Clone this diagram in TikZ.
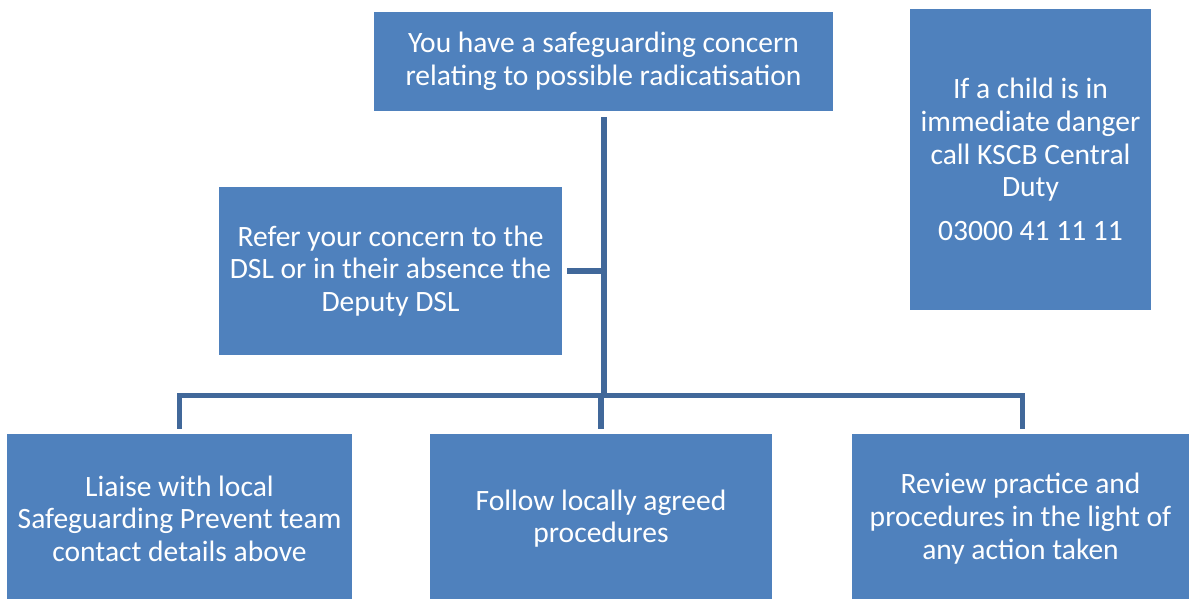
\documentclass[tikz,border=0pt]{standalone}
\usepackage{fontspec}
\setmainfont{Carlito}
\definecolor{boxblue}{HTML}{4F81BD}
\definecolor{linkblue}{HTML}{41689A}
\begin{document}
\begin{tikzpicture}[x=0.025cm,y=-0.025cm,
  box/.style={rectangle,fill=boxblue,draw=none,text=white,inner sep=0pt,align=center,
    font=\fontsize{21}{23.2}\selectfont},
  conn/.style={draw=linkblue,line width=3.6pt}]
\useasboundingbox (0,0) rectangle (1189,598);
\clip (0,0) rectangle (1189,598);
\node[box,minimum width=11.475cm,minimum height=2.475cm] (top) at (603.5,61.5)
  {You have a safeguarding concern\\relating to possible radicatisation};
\node[box,minimum width=6.025cm,minimum height=7.525cm] (danger) at (1030.5,159.5)
  {If a child is in\\immediate danger\\call KSCB Central\\Duty\\[8pt]03000 41 11 11};
\node[box,minimum width=8.575cm,minimum height=4.2cm] (refer) at (390.5,271)
  {Refer your concern to the\\DSL or in their absence the\\Deputy DSL};
\node[box,minimum width=8.6cm,minimum height=4.225cm] (bl) at (179.5,518.5)
  {Liaise with local\\Safeguarding Prevent team\\contact details above};
\node[box,minimum width=8.55cm,minimum height=4.225cm] (bm) at (601,518.5)
  {Follow locally agreed\\procedures};
\node[box,minimum width=8.425cm,minimum height=4.225cm] (br) at (1020.5,518.5)
  {Review practice and\\procedures in the light of\\any action taken};
\coordinate (j) at (604,395.5);
\coordinate (brtop) at (1022.5,434);
\draw[conn,shorten <=0.15cm] (top.south -| j) -- (j);
\draw[conn,shorten <=0.125cm] (refer.east) -- (refer.east -| j);
\draw[conn,shorten >=0.125cm] (j) -| (bl.north);
\draw[conn,shorten >=0.125cm] (j) -| (brtop);
\draw[conn,shorten >=0.125cm] (bm.north |- j) -- (bm.north);
\end{tikzpicture}
\end{document}
